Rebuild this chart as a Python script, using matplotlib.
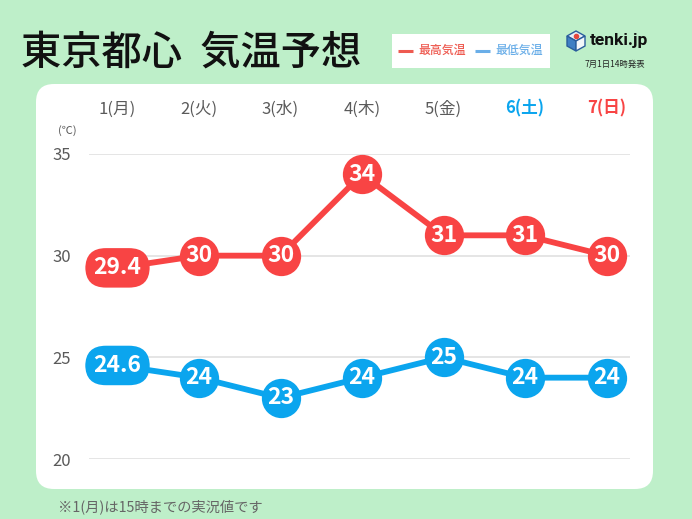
import matplotlib
matplotlib.use('Agg')
import matplotlib.pyplot as plt
from matplotlib.patches import FancyBboxPatch, Polygon, Rectangle

plt.rcParams['font.family'] = ['Noto Sans CJK JP', 'DejaVu Sans']

# データ
days = ['1(月)', '2(火)', '3(水)', '4(木)', '5(金)', '6(土)', '7(日)']
high = [29.4, 30, 30, 34, 31, 31, 30]
low = [24.6, 24, 23, 24, 25, 24, 24]
high_labels = ['29.4', '30', '30', '34', '31', '31', '30']
low_labels = ['24.6', '24', '23', '24', '25', '24', '24']
yticks = [20, 25, 30, 35]

RED = '#F84444'
BLUE = '#0BA5EE'
GREEN = '#BEEFC9'
GRAY = '#5A5A5A'
day_colors = [GRAY, GRAY, GRAY, GRAY, GRAY, '#0BA5EE', '#F84444']

W, H = 692, 519
fig = plt.figure(figsize=(W / 100, H / 100), dpi=100, facecolor=GREEN)

# 背景パネルなど（ピクセル座標）
bg = fig.add_axes([0, 0, 1, 1])
bg.set_xlim(0, W)
bg.set_ylim(H, 0)
bg.axis('off')
bg.add_patch(FancyBboxPatch((36 + 18, 84 + 18), 617 - 36, 405 - 36,
                            boxstyle='round,pad=18,rounding_size=18',
                            fc='white', ec='none'))
bg.add_patch(Rectangle((392, 34), 158, 34, fc='white', ec='none'))

bg.text(21, 53, '東京都心  気温予想', fontsize=29, fontweight='medium',
        color='#111111', va='center', ha='left')

# 凡例
bg.plot([398, 413], [50.5, 50.5], color='#EE5A50', lw=2.2, solid_capstyle='butt')
bg.text(418, 50.5, '最高気温', fontsize=8.6, color='#EE5A50', va='center', fontweight='medium')
bg.plot([475, 490], [50.5, 50.5], color='#6AAEE8', lw=2.2, solid_capstyle='butt')
bg.text(495, 50.5, '最低気温', fontsize=8.6, color='#6AAEE8', va='center', fontweight='medium')

# ロゴ
bg.add_patch(Polygon([[576, 31], [585, 36], [576, 41], [567, 36]], fc='#E8F0F8', ec='#2A5D9C', lw=1))
bg.add_patch(Polygon([[567, 36], [576, 41], [576, 51], [567, 46]], fc='#3F7FC4', ec='#2A5D9C', lw=1))
bg.add_patch(Polygon([[585, 36], [576, 41], [576, 51], [585, 46]], fc='#F4F7FA', ec='#2A5D9C', lw=1))
bg.plot([576], [35.5], marker='o', ms=3, color='#E5483F')
bg.text(590, 40.5, 'tenki.jp', fontsize=12.5, fontweight='bold', color='#111111',
        va='center', ha='left', family=['Roboto', 'DejaVu Sans'])
bg.text(585, 64, '7月1日14時発表', fontsize=6, color='#222222', va='center', ha='left')

bg.text(58, 507, '※1(月)は15時までの実況値です', fontsize=10.3, color='#666666',
        va='center', ha='left')
bg.text(67.5, 131, '(℃)', fontsize=8, color=GRAY, va='center', ha='center')

# グラフ本体
left, right, top, bottom = 89, 630, 154, 459
ax = fig.add_axes([left / W, 1 - bottom / H, (right - left) / W, (bottom - top) / H])
ax.patch.set_alpha(0)
x = list(range(len(days)))
ax.set_xlim((left - 117.5) / 81.5, (right - 117.5) / 81.5)
ax.set_ylim(20, 35)
ax.set_yticks(yticks)
ax.set_xticks(x)
ax.set_xticklabels(days, fontsize=12)
ax.xaxis.tick_top()
ax.tick_params(axis='x', length=0, pad=26)
ax.tick_params(axis='y', length=0, pad=13, labelsize=12, labelcolor=GRAY)
for lab, c in zip(ax.get_xticklabels(), day_colors):
    lab.set_color(c)
    if c != GRAY:
        lab.set_fontweight('bold')
ax.grid(axis='y', color='#E0E0E0', lw=1.2)
ax.set_axisbelow(True)
for s in ax.spines.values():
    s.set_visible(False)


def draw_series(vals, labels, color):
    ax.plot(x, vals, color=color, lw=4.2, clip_on=False, zorder=3)
    ax.scatter(x[1:], vals[1:], s=800, color=color, clip_on=False, zorder=4, lw=0)
    # 1日目は実況値なので横長のラベル
    ax.text(x[0], vals[0], labels[0], fontsize=16.5, fontweight='bold', color='white',
            ha='center', va='center', zorder=5,
            bbox=dict(boxstyle='round,pad=0.36,rounding_size=0.9', fc=color, ec='none'))
    for i in x[1:]:
        ax.text(i, vals[i], labels[i], fontsize=16.5, fontweight='bold', color='white',
                ha='center', va='center', zorder=5)


draw_series(high, high_labels, RED)
draw_series(low, low_labels, BLUE)

fig.savefig('out.png', dpi=100, facecolor=GREEN)
